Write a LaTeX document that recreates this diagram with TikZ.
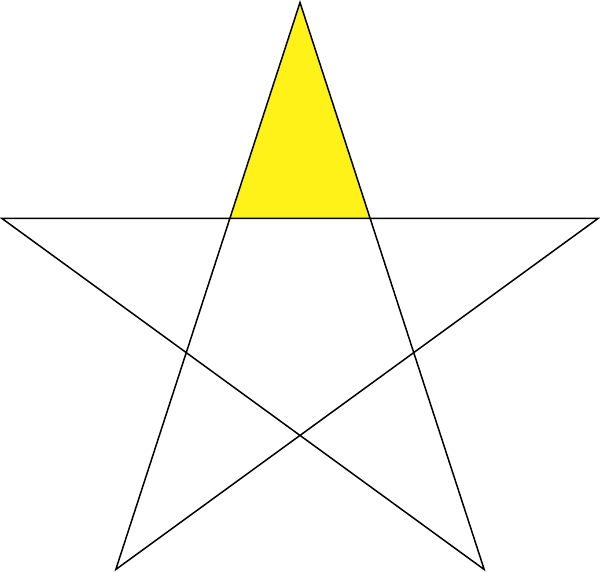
\documentclass[tikz,border=0pt]{standalone}
\definecolor{staryellow}{RGB}{255,242,25}
\tikzset{starline/.style={draw=black, line width=1.5pt, line join=miter}}
\begin{document}
\begin{tikzpicture}[x=1pt,y=-1pt]
\useasboundingbox (0,0) rectangle (600,572);
\coordinate (T) at (300,2.5);
\coordinate (L) at (2,218.5);
\coordinate (R) at (598,218.5);
\coordinate (BL) at (115.8,569.5);
\coordinate (BR) at (484.2,569.5);
\coordinate (IL) at (229.7,218.5);
\coordinate (IR) at (370.3,218.5);
\fill[staryellow] (T) -- (IL) -- (IR) -- cycle;
\draw[starline] (T) -- (BL) -- (R) -- (L) -- (BR) -- cycle;
\end{tikzpicture}
\end{document}
